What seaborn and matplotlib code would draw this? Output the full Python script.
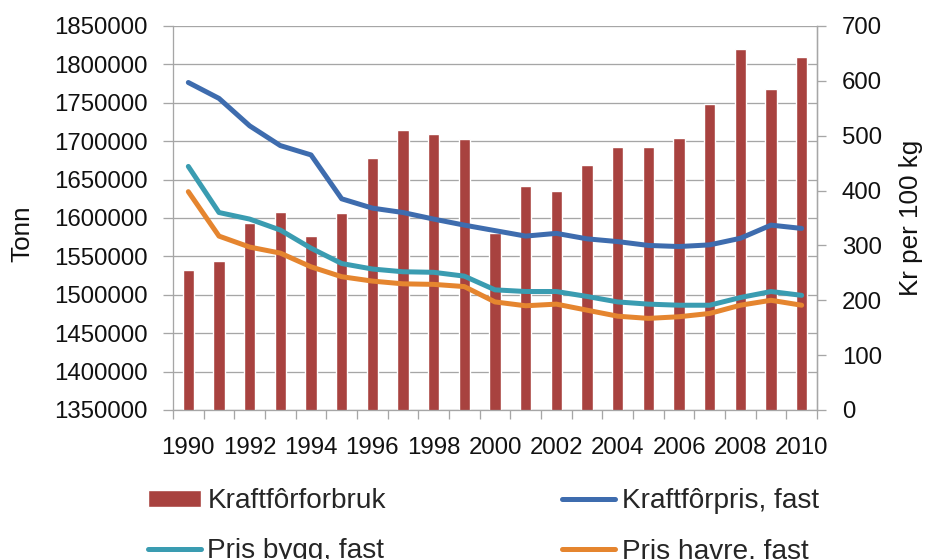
import numpy as np
import pandas as pd
import matplotlib
matplotlib.use("Agg")
import matplotlib.pyplot as plt
from matplotlib.ticker import FuncFormatter, FixedLocator
import seaborn as sns

# Annual concentrate feed use (tonnes) and real prices (kr per 100 kg), 1990-2010
years = list(range(1990, 2011))
kraftforforbruk = [1532000, 1544000, 1594000, 1608000, 1577000, 1606000, 1678000,
                   1715000, 1710000, 1703000, 1581000, 1642000, 1635000, 1669000,
                   1693000, 1692000, 1704000, 1748000, 1820000, 1768000, 1810000]
kraftforpris = [597, 568, 518, 482, 465, 385, 368, 360, 348, 337, 327, 317, 322,
                312, 307, 300, 298, 301, 313, 337, 331]
pris_bygg = [444, 360, 348, 328, 295, 267, 257, 252, 251, 244, 219, 216, 216,
             207, 197, 193, 191, 191, 205, 216, 209]
pris_havre = [398, 317, 297, 286, 261, 243, 235, 230, 229, 225, 197, 190, 193,
              182, 171, 167, 170, 176, 191, 200, 191]

year_labels = [str(y) for y in years]
left_ticks = list(range(1350000, 1850001, 50000))
right_ticks = list(range(0, 701, 100))

BAR_RED = "#A8423F"
BLUE = "#3E6CAE"
TEAL = "#3A9CB1"
ORANGE = "#E5852F"
GRID = "#A6A6A6"
TEXT = "#111111"

px = 0.72  # points per pixel at dpi=100

sns.set_theme(style="white")
plt.rcParams["font.family"] = ["Liberation Sans", "DejaVu Sans"]

df = pd.DataFrame({
    "year": year_labels,
    "pos": np.arange(len(years)),
    "forbruk": kraftforforbruk,
    "kraftforpris": kraftforpris,
    "bygg": pris_bygg,
    "havre": pris_havre,
})

fig = plt.figure(figsize=(9.25, 5.59), dpi=100)
ax = fig.add_axes([173 / 925, 1 - 410 / 559, (817 - 173) / 925, (410 - 26) / 559])

sns.barplot(data=df, x="year", y="forbruk", color=BAR_RED, saturation=1,
            width=0.38, ax=ax, label="Kraftfôrforbruk", zorder=2)
ax.set_ylim(1350000, 1850000)
ax.set_xlim(-0.5, len(years) - 0.5)
ax.yaxis.set_major_locator(FixedLocator(left_ticks))
ax.yaxis.set_major_formatter(FuncFormatter(lambda v, p: f"{int(round(v))}"))
ax.grid(axis="y", color=GRID, linewidth=1.3 * px)
ax.set_axisbelow(True)

# x axis: labels every second year, tick marks on category boundaries
ax.xaxis.set_major_locator(FixedLocator(list(range(0, len(years), 2))))
ax.set_xticklabels(year_labels[::2])
ax.xaxis.set_minor_locator(FixedLocator(list(np.arange(-0.5, len(years), 1.0))))
ax.tick_params(axis="x", which="major", length=0, pad=27 * px, labelsize=24 * px,
               labelcolor=TEXT)
ax.tick_params(axis="x", which="minor", length=9 * px, width=1.3 * px,
               color=GRID, direction="out", bottom=True)
ax.tick_params(axis="y", which="major", length=10 * px, width=1.3 * px, color=GRID,
               direction="out", left=True, pad=15 * px, labelsize=24 * px,
               labelcolor=TEXT)
ax.set_xlabel("")
ax.set_ylabel("Tonn", fontsize=26 * px, color=TEXT)
ax.yaxis.set_label_coords(-0.215, 0.46)

ax.spines["top"].set_visible(False)
for side in ["left", "bottom", "right"]:
    ax.spines[side].set_color(GRID)
    ax.spines[side].set_linewidth(1.3 * px)

ax2 = ax.twinx()
lw = 5 * px
sns.lineplot(data=df, x="pos", y="kraftforpris", color=BLUE, linewidth=lw,
             ax=ax2, label="Kraftfôrpris, fast")
sns.lineplot(data=df, x="pos", y="bygg", color=TEAL, linewidth=lw,
             ax=ax2, label="Pris bygg, fast")
sns.lineplot(data=df, x="pos", y="havre", color=ORANGE, linewidth=lw,
             ax=ax2, label="Pris havre, fast")
ax2.set_ylim(0, 700)
ax2.set_xlim(-0.5, len(years) - 0.5)
ax2.yaxis.set_major_locator(FixedLocator(right_ticks))
ax2.tick_params(axis="y", which="major", length=9 * px, width=1.3 * px, color=GRID,
                direction="out", right=True, pad=16 * px, labelsize=24 * px,
                labelcolor=TEXT)
ax2.set_ylabel("Kr per 100 kg", fontsize=26 * px, color=TEXT)
ax2.yaxis.set_label_coords(1.128, 0.5)
ax2.set_xlabel("")
ax2.grid(False)
for side in ["top", "left", "bottom"]:
    ax2.spines[side].set_visible(False)
ax2.spines["right"].set_color(GRID)
ax2.spines["right"].set_linewidth(1.3 * px)

# combined legend below the plot, two columns
h1, l1 = ax.get_legend_handles_labels()
h2, l2 = ax2.get_legend_handles_labels()
for a in (ax, ax2):
    if a.get_legend() is not None:
        a.get_legend().remove()
hmap = dict(zip(l1 + l2, h1 + h2))
order = ["Kraftfôrforbruk", "Pris bygg, fast", "Kraftfôrpris, fast", "Pris havre, fast"]
fig.legend([hmap[k] for k in order], order, ncol=2, frameon=False,
           loc="upper left", bbox_to_anchor=(148 / 925, 1 - 488 / 559),
           borderaxespad=0, borderpad=0, fontsize=28 * px,
           handlelength=1.9, handleheight=0.55, handletextpad=0.22,
           columnspacing=6.3, labelspacing=0.87)

fig.savefig("out.png", dpi=100)
